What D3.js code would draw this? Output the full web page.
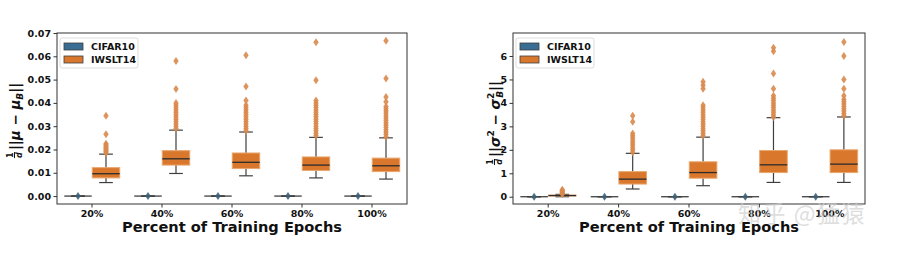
<!DOCTYPE html>
<html>
<head>
<meta charset="utf-8">
<script src="https://cdn.jsdelivr.net/npm/d3@7"></script>
<style>
  body { margin: 0; background: #fff; }
  svg { font-family: "DejaVu Sans", sans-serif; }
</style>
</head>
<body>
<svg id="chart" width="904" height="254"></svg>
<script>
// categories and series
const categories = ['20%', '40%', '60%', '80%', '100%'];
const series = ['CIFAR10', 'IWSLT14'];

// left panel: 1/d ||mu - mu_B||, IWSLT14 box stats
const muLow = [0.0058, 0.0097, 0.0087, 0.0078, 0.0073];
const muQ1 = [0.0078, 0.0133, 0.0118, 0.0110, 0.0105];
const muMed = [0.0096, 0.0160, 0.0145, 0.0133, 0.0130];
const muQ3 = [0.0122, 0.0195, 0.0185, 0.0168, 0.0163];
const muHigh = [0.0180, 0.0283, 0.0275, 0.0252, 0.0250];
const muOutliers = [
  [0.0185, 0.019, 0.0195, 0.020, 0.0205, 0.021, 0.0215, 0.022, 0.0225, 0.0265, 0.0345],
  [0.029, 0.030, 0.031, 0.032, 0.033, 0.034, 0.035, 0.036, 0.037, 0.038, 0.039, 0.040, 0.046, 0.058],
  [0.028, 0.029, 0.030, 0.031, 0.032, 0.033, 0.034, 0.035, 0.036, 0.037, 0.038, 0.039, 0.041, 0.047, 0.0605],
  [0.026, 0.027, 0.028, 0.029, 0.030, 0.031, 0.032, 0.033, 0.034, 0.035, 0.036, 0.037, 0.038, 0.039, 0.040, 0.041, 0.0497, 0.066],
  [0.0255, 0.0265, 0.0275, 0.0285, 0.0295, 0.0305, 0.0315, 0.0325, 0.0335, 0.0345, 0.0355, 0.0365, 0.0375, 0.0385, 0.0405, 0.0425, 0.0505, 0.0667]
];

// right panel: 1/d ||sigma^2 - sigma_B^2||, IWSLT14 box stats
const sigLow = [0.00, 0.33, 0.47, 0.61, 0.61];
const sigQ1 = [0.03, 0.54, 0.79, 1.03, 1.03];
const sigMed = [0.05, 0.75, 1.03, 1.36, 1.39];
const sigQ3 = [0.07, 1.07, 1.49, 1.97, 2.00];
const sigHigh = [0.10, 1.85, 2.54, 3.37, 3.40];
const sigOutliers = [
  [0.12, 0.15, 0.18, 0.21, 0.24, 0.27, 0.30],
  [1.9, 2.0, 2.1, 2.2, 2.3, 2.4, 2.5, 2.6, 2.7, 3.2, 3.45],
  [2.6, 2.7, 2.8, 2.9, 3.0, 3.1, 3.2, 3.3, 3.4, 3.5, 3.6, 3.7, 3.8, 3.9, 4.6, 4.75, 4.9],
  [3.4, 3.5, 3.6, 3.7, 3.8, 3.9, 4.0, 4.1, 4.2, 4.3, 4.6, 5.25, 6.2, 6.35],
  [3.45, 3.55, 3.65, 3.75, 3.85, 3.95, 4.05, 4.15, 4.3, 4.6, 5.0, 6.0, 6.6]
];

// CIFAR10 collapses to zero everywhere
const cifarStat = [0, 0, 0, 0, 0];
const cifarOutliers = [[0], [0], [0], [0], [0]];

const colors = { CIFAR10: '#3a6d93', IWSLT14: '#d9782d' };
const flierColors = { CIFAR10: '#3e6079', IWSLT14: '#d98a4e' };
const lineColor = '#3f3f3f';

const svg = d3.select('#chart');

function drawPanel(opt) {
  const { left, right, top, bottom } = opt;
  const g = svg.append('g');

  const x = d3.scaleBand().domain(categories).range([left, right]);
  const bw = x.bandwidth();
  const xHue = d3.scaleBand().domain(series).range([0.1 * bw, 0.9 * bw]);
  const boxW = xHue.bandwidth() * 0.98;
  const y = d3.scaleLinear().domain(opt.yDomain).range([bottom, top]);

  // boxes for each series
  series.forEach(s => {
    const st = opt.stats[s];
    categories.forEach((c, i) => {
      const cx = x(c) + xHue(s) + xHue.bandwidth() / 2;
      const bg = g.append('g');
      // whiskers
      bg.append('line')
        .attr('x1', cx).attr('x2', cx)
        .attr('y1', y(st.low[i])).attr('y2', y(st.q1[i]))
        .attr('stroke', lineColor).attr('stroke-width', 1.2);
      bg.append('line')
        .attr('x1', cx).attr('x2', cx)
        .attr('y1', y(st.q3[i])).attr('y2', y(st.high[i]))
        .attr('stroke', lineColor).attr('stroke-width', 1.2);
      // caps
      [st.low[i], st.high[i]].forEach(v => {
        bg.append('line')
          .attr('x1', cx - boxW / 4).attr('x2', cx + boxW / 4)
          .attr('y1', y(v)).attr('y2', y(v))
          .attr('stroke', lineColor).attr('stroke-width', 1.2);
      });
      // box
      bg.append('rect')
        .attr('x', cx - boxW / 2)
        .attr('y', y(st.q3[i]))
        .attr('width', boxW)
        .attr('height', Math.max(0, y(st.q1[i]) - y(st.q3[i])))
        .attr('fill', colors[s])
        .attr('stroke', s === 'IWSLT14' ? '#e9a76f' : lineColor)
        .attr('stroke-width', 1);
      // median
      bg.append('line')
        .attr('x1', cx - boxW / 2).attr('x2', cx + boxW / 2)
        .attr('y1', y(st.med[i])).attr('y2', y(st.med[i]))
        .attr('stroke', s === 'IWSLT14' ? '#2b2b2b' : lineColor)
        .attr('stroke-width', 1.3);
      // outliers
      bg.selectAll('path.flier')
        .data(st.out[i])
        .join('path')
        .attr('class', 'flier')
        .attr('d', 'M0,-4L2.7,0L0,4L-2.7,0Z')
        .attr('transform', v => `translate(${cx},${y(v)})`)
        .attr('fill', flierColors[s])
        .attr('fill-opacity', 0.9);
    });
  });

  // frame
  g.append('rect')
    .attr('x', left).attr('y', top)
    .attr('width', right - left).attr('height', bottom - top)
    .attr('fill', 'none').attr('stroke', '#333').attr('stroke-width', 1);

  // axes
  const yAxis = g.append('g')
    .attr('transform', `translate(${left},0)`)
    .call(d3.axisLeft(y).tickValues(opt.yTicks).tickFormat(opt.yFormat).tickSize(3.5).tickPadding(2.5));
  const xAxis = g.append('g')
    .attr('transform', `translate(0,${bottom})`)
    .call(d3.axisBottom(x).tickSize(3.5).tickPadding(3));
  [yAxis, xAxis].forEach(a => {
    a.select('.domain').remove();
    a.selectAll('line').attr('stroke', '#333');
    a.selectAll('text')
      .attr('font-family', 'DejaVu Sans')
      .attr('font-weight', 'bold')
      .attr('font-size', 9.5)
      .attr('fill', '#111');
  });

  // x axis title
  g.append('text')
    .attr('x', (left + right) / 2)
    .attr('y', 232)
    .attr('text-anchor', 'middle')
    .attr('font-weight', 'bold')
    .attr('font-size', 14.6)
    .attr('fill', '#111')
    .text('Percent of Training Epochs');

  // legend
  const lg = g.append('g').attr('transform', `translate(${left + 3},${top + 5})`);
  lg.append('rect')
    .attr('x', 0).attr('y', 0).attr('width', 78).attr('height', 30)
    .attr('fill', '#fff').attr('stroke', '#ddd').attr('rx', 2);
  series.forEach((s, i) => {
    lg.append('rect')
      .attr('x', 4).attr('y', 5 + i * 13)
      .attr('width', 19).attr('height', 7)
      .attr('fill', colors[s]).attr('stroke', lineColor).attr('stroke-width', 0.8);
    lg.append('text')
      .attr('x', 31).attr('y', 12 + i * 13)
      .attr('font-weight', 'bold').attr('font-size', 9.5).attr('fill', '#111')
      .text(s);
  });

  // y label with fraction
  const yl = g.append('g')
    .attr('transform', `translate(${opt.labelX},${(top + bottom) / 2 + 2}) rotate(-90)`);
  const frac = yl.append('g');
  frac.append('text').attr('x', 0).attr('y', -4).attr('text-anchor', 'middle')
    .attr('font-size', 8).attr('font-weight', 'bold').attr('fill', '#111').text('1');
  frac.append('line').attr('x1', -3).attr('x2', 3).attr('y1', -2.5).attr('y2', -2.5)
    .attr('stroke', '#111').attr('stroke-width', 1);
  frac.append('text').attr('x', 0).attr('y', 4.5).attr('text-anchor', 'middle')
    .attr('font-size', 8).attr('font-style', 'italic').attr('font-weight', 'bold')
    .attr('fill', '#111').text('d');
  const main = yl.append('text')
    .attr('x', 6).attr('y', 3)
    .attr('font-size', 13.5).attr('font-weight', 'bold').attr('fill', '#111');
  opt.label(main);
  const w = main.node().getComputedTextLength() + 6;
  frac.attr('transform', `translate(${-w / 2 + 2},0)`);
  main.attr('x', -w / 2 + 7);
}

drawPanel({
  left: 57, right: 407, top: 33, bottom: 204,
  yDomain: [-0.0034, 0.0700],
  yTicks: [0, 0.01, 0.02, 0.03, 0.04, 0.05, 0.06, 0.07],
  yFormat: d3.format('.2f'),
  labelX: 17,
  stats: {
    CIFAR10: { low: cifarStat, q1: cifarStat, med: cifarStat, q3: cifarStat, high: cifarStat, out: cifarOutliers },
    IWSLT14: { low: muLow, q1: muQ1, med: muMed, q3: muQ3, high: muHigh, out: muOutliers }
  },
  label: t => {
    t.append('tspan').text('||');
    t.append('tspan').attr('font-style', 'italic').text('μ');
    t.append('tspan').text(' − ');
    t.append('tspan').attr('font-style', 'italic').text('μ');
    t.append('tspan').attr('font-size', 9).attr('font-style', 'italic').attr('dy', 3).text('B');
    t.append('tspan').attr('dy', -3).text('||');
  }
});

drawPanel({
  left: 513, right: 865, top: 33, bottom: 204,
  yDomain: [-0.31, 6.98],
  yTicks: [0, 1, 2, 3, 4, 5, 6],
  yFormat: d3.format('d'),
  labelX: 497,
  stats: {
    CIFAR10: { low: cifarStat, q1: cifarStat, med: cifarStat, q3: cifarStat, high: cifarStat, out: cifarOutliers },
    IWSLT14: { low: sigLow, q1: sigQ1, med: sigMed, q3: sigQ3, high: sigHigh, out: sigOutliers }
  },
  label: t => {
    t.append('tspan').text('||');
    t.append('tspan').attr('font-style', 'italic').text('σ');
    t.append('tspan').attr('font-size', 9).attr('dy', -6).text('2');
    t.append('tspan').attr('dy', 6).text(' − ');
    t.append('tspan').attr('font-style', 'italic').text('σ');
    t.append('tspan').attr('font-size', 9).attr('dy', -6).text('2');
    t.append('tspan').attr('font-size', 9).attr('font-style', 'italic').attr('dx', -5).attr('dy', 9).text('B');
    t.append('tspan').attr('dy', -3).text('||');
  }
});

// watermark
svg.append('text')
  .attr('x', 738).attr('y', 222)
  .attr('font-family', 'Noto Sans CJK SC')
  .attr('font-size', 23)
  .attr('letter-spacing', 1.5)
  .attr('fill', '#d0d0d0')
  .attr('fill-opacity', 0.7)
  .text('知乎 @猛猿');
</script>
</body>
</html>
